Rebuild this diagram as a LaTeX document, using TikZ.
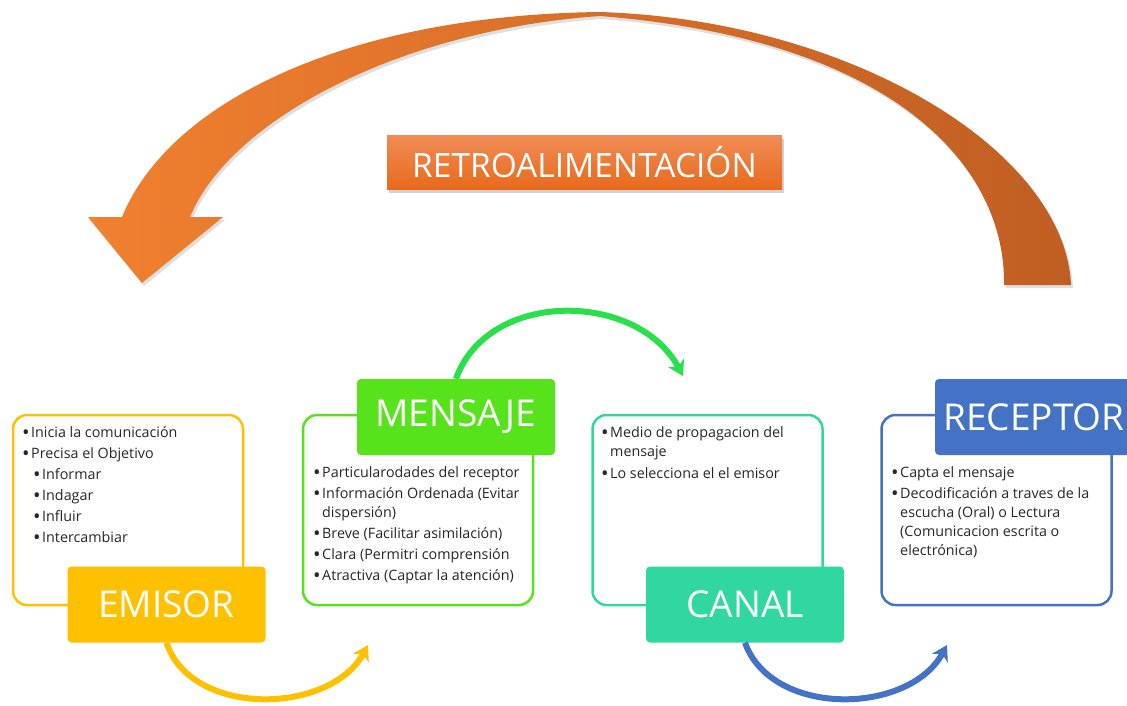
\documentclass[tikz,border=0pt]{standalone}
\usepackage{fontspec}
\setmainfont{Open Sans}
\usetikzlibrary{arrows.meta,positioning,shadows}

\definecolor{emisorc}{HTML}{FFC000}
\definecolor{mensajec}{HTML}{57E31B}
\definecolor{canalc}{HTML}{31D7A1}
\definecolor{receptorc}{HTML}{4472C4}
\definecolor{flechav}{HTML}{27E04C}
\definecolor{retroA}{HTML}{F08C55}
\definecolor{retroB}{HTML}{E8691B}
\definecolor{bigL}{HTML}{F1802F}
\definecolor{bigR}{HTML}{C05E22}

\newcommand{\bl}{\raisebox{-2.3pt}{\scalebox{1.4}{\textbullet}}\hspace{1.5pt}}
\newcommand{\ind}{\phantom{\bl}}

\tikzset{
  caja/.style={draw=#1, line width=2.5pt, rounded corners=14pt, minimum width=230pt, minimum height=190pt, fill=white},
  etiqueta/.style={fill=#1, rounded corners=4pt, minimum width=198pt, minimum height=76pt, text=white, font=\fontsize{37}{40}\selectfont, inner sep=0pt},
  texto/.style={anchor=north west, align=left, inner sep=0pt, text=black!85, font=\fontsize{14.3}{19}\selectfont},
  giro/.style={draw=#1, line width=6pt, -{Stealth[length=15pt,width=18pt]}},
  retro/.style={top color=retroA, bottom color=retroB, minimum width=395pt, minimum height=54pt, inner sep=0pt, text=white, font=\fontsize{33.5}{36}\selectfont, drop shadow={opacity=0.35, shadow xshift=2pt, shadow yshift=-3pt}},
}

\begin{document}
\begin{tikzpicture}[x=1pt, y=-1pt]
\useasboundingbox (0,0) rectangle (1127,705);
\fill[white] (0,0) rectangle (1127,705);

% flecha grande de retroalimentacion
\shade[left color=bigL, right color=bigR, drop shadow={opacity=0.25, shadow xshift=2pt, shadow yshift=-3pt}]
  (1071,285) .. controls (1065,150) and (850,20) .. (600,12)
  .. controls (350,15) and (170,100) .. (122,217)
  -- (88,217) -- (142,283) -- (223,217) -- (190,217)
  .. controls (230,120) and (400,30) .. (600,16)
  .. controls (900,40) and (1006,170) .. (1004,285) -- cycle;

\node[retro] (retro) at (584.5,162.5) {RETROALIMENTACIÓN};

% cajas de descripcion
\node[caja=emisorc] (emisorBox) at (128,510) {};
\node[caja=mensajec] (mensajeBox) at (418,510) {};
\node[caja=canalc] (canalBox) at (707.5,510) {};
\node[caja=receptorc] (receptorBox) at (996.5,510) {};

% etiquetas
\node[etiqueta=emisorc] (emisor) at (166.5,604.5) {EMISOR};
\node[etiqueta=mensajec] (mensaje) at (456,417) {MENSAJE};
\node[etiqueta=canalc] (canal) at (745,604.5) {CANAL};
\node[etiqueta=receptorc] (receptor) at (1034,417) {RECEPTOR};

% textos
\node[texto] (emisorTxt) at (22,426) {\bl Inicia la comunicación\\[2pt]
  \bl Precisa el Objetivo\\[2pt]
  \hspace*{11pt}\bl Informar\\[2pt]
  \hspace*{11pt}\bl Indagar\\[2pt]
  \hspace*{11pt}\bl Influir\\[2pt]
  \hspace*{11pt}\bl Intercambiar};
\node[texto] (mensajeTxt) at (313,466) {\bl Particularodades del receptor\\[2pt]
  \bl Información Ordenada (Evitar\\
  \ind dispersión)\\[2pt]
  \bl Breve (Facilitar asimilación)\\[2pt]
  \bl Clara (Permitri comprensión\\[2pt]
  \bl Atractiva (Captar la atención)};
\node[texto] (canalTxt) at (601,426) {\bl Medio de propagacion del\\
  \ind mensaje\\[3pt]
  \bl Lo selecciona el el emisor};
\node[texto] (receptorTxt) at (891,466) {\bl Capta el mensaje\\[2pt]
  \bl Decodificación a traves de la\\
  \ind escucha (Oral) o Lectura\\
  \ind (Comunicacion escrita o\\
  \ind electrónica)};

% flechas curvas
\coordinate (finAmarillo) at (368,645);
\coordinate (finVerde) at (683,376);
\coordinate (finAzul) at (947,645);
\draw[giro=emisorc] (emisor.south) .. controls +(25,75) and +(-38,70) .. (finAmarillo);
\draw[giro=flechav] (mensaje.north) .. controls +(32,-90) and +(-45,-85) .. (finVerde);
\draw[giro=receptorc] (canal.south) .. controls +(27,75) and +(-38,70) .. (finAzul);
\end{tikzpicture}
\end{document}
